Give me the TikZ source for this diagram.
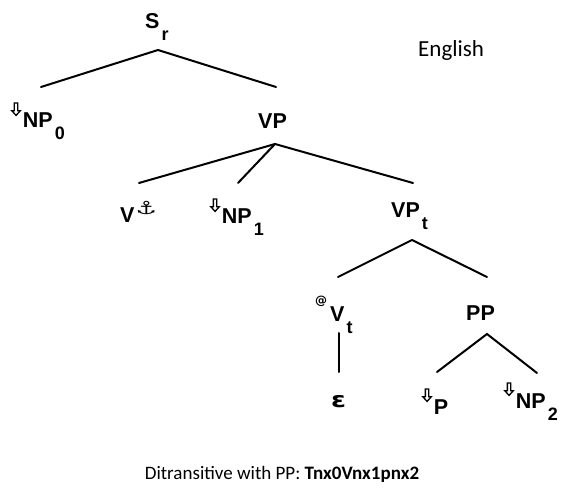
\documentclass[tikz,border=0pt]{standalone}
\usepackage{fontspec}
\usepackage{graphicx}
\setmainfont{Liberation Sans}
\newfontfamily\symf{DejaVu Sans}
\newfontfamily\capf{Carlito}
\newcommand{\tsub}[1]{\kern2pt\raisebox{-12pt}{\fontsize{18}{18}\selectfont #1}}
\newcommand{\tdown}{\raisebox{12pt}{\tikz[x=1pt,y=1pt,baseline=0pt]\draw[line width=1.3pt,line join=miter,black] (0,0.6) -- (-4.2,5.2) -- (-1.7,5.2) -- (-1.7,13) -- (1.7,13) -- (1.7,5.2) -- (4.2,5.2) -- cycle;}\kern2pt}
\newcommand{\tanchor}{\kern1pt\raisebox{8pt}{\scalebox{1.25}[0.95]{\symf\bfseries\fontsize{19}{19}\selectfont ⚓}}}
\newcommand{\tat}{\raisebox{17pt}{\symf\bfseries\fontsize{12}{12}\selectfont @}\kern3pt}
\begin{document}
\begin{tikzpicture}[x=1pt,y=-1pt,
  lab/.style={inner sep=0pt,anchor=base west,font={\bfseries\fontsize{21.5}{26}\selectfont}},
  edge/.style={line width=2pt,line cap=round}]
\useasboundingbox[fill=white] (0,0) rectangle (565,497);
% labels
\node[lab] (S) at (145,29) {S\tsub{r}};
\node[lab] (NP0) at (11,128) {\tdown NP\tsub{0}};
\node[lab] (VP) at (258,129) {VP};
\node[lab] (V) at (120,223) {V\tanchor};
\node[lab] (NP1) at (210,224) {\tdown NP\tsub{1}};
\node[lab] (VPt) at (391,218) {VP\tsub{t}};
\node[lab] (Vt) at (315,321) {\tat V\tsub{t}};
\node[lab] (PP) at (466,320) {PP};
\node[lab] (eps) at (331,407) {\scalebox{1.25}[1]{\symf\bfseries ε}};
\node[lab] (P) at (422,414) {\tdown P};
\node[lab] (NP2) at (504,408) {\tdown NP\tsub{2}};
\node[inner sep=0pt,anchor=base west,font={\capf\fontsize{23}{27}\selectfont}] (lang) at (418,57) {English};
\node[inner sep=0pt,anchor=base,font={\capf\fontsize{19}{24}\selectfont}] (cap) at (282,479) {Ditransitive with PP: \textbf{Tnx0Vnx1pnx2}};
% connector end points
\coordinate (S-b) at (158,50);
\coordinate (NP0-t) at (41,87);
\coordinate (VP-t) at (276,87);
\coordinate (VP-b) at (275,144);
\coordinate (V-t) at (139,183);
\coordinate (NP1-t) at (238,183);
\coordinate (VPt-t) at (413,183);
\coordinate (VPt-b) at (412,240);
\coordinate (Vt-t) at (338,277);
\coordinate (PP-t) at (487,277);
\coordinate (Vt-b) at (339,333);
\coordinate (eps-t) at (339,372);
\coordinate (PP-b) at (487,334);
\coordinate (P-t) at (437,372);
\coordinate (NP2-t) at (537,373);
% connectors
\draw[edge] (NP0-t) -- (S-b) -- (VP-t);
\draw[edge] (V-t) -- (VP-b) -- (VPt-t);
\draw[edge] (VP-b) -- (NP1-t);
\draw[edge] (Vt-t) -- (VPt-b) -- (PP-t);
\draw[edge] (Vt-b) -- (eps-t);
\draw[edge] (P-t) -- (PP-b) -- (NP2-t);
\end{tikzpicture}
\end{document}
